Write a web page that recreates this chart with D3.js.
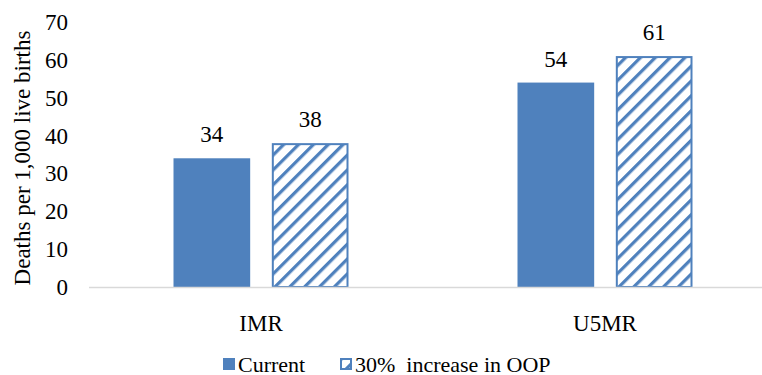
<!DOCTYPE html>
<html>
<head>
<meta charset="utf-8">
<script src="https://cdn.jsdelivr.net/npm/d3@7"></script>
</head>
<body style="margin:0">
<script>
// data
var categories = ["IMR", "U5MR"];
var seriesNames = ["Current", "30%  increase in OOP"];
var current = [34, 54];
var increased = [38, 61];
var yTicks = [0, 10, 20, 30, 40, 50, 60, 70];

var width = 762, height = 375;
var blue = "#4F81BD";
var serif = "'Liberation Serif', serif";

var svg = d3.select("body").append("svg")
  .attr("width", width)
  .attr("height", height);

// diagonal hatch
var defs = svg.append("defs");
var pat = defs.append("pattern")
  .attr("id", "hatch")
  .attr("patternUnits", "userSpaceOnUse")
  .attr("width", 10.5)
  .attr("height", 10.5)
  .attr("patternTransform", "rotate(45)");
pat.append("rect").attr("width", 10.5).attr("height", 10.5).attr("fill", "#fff");
pat.append("line")
  .attr("x1", 0).attr("y1", 0).attr("x2", 0).attr("y2", 10.5)
  .attr("stroke", blue).attr("stroke-width", 6.5);

var x = d3.scaleBand().domain(categories).range([89, 777]);
var y = d3.scaleLinear().domain([0, 70]).range([287, 22]);
var sub = d3.scaleBand().domain([0, 1]).range([0, 175]).paddingInner(0.22);

function label(sel, size) {
  return sel.style("font-family", serif)
    .style("font-size", size + "px")
    .attr("fill", "#000");
}

// y tick labels
label(svg.append("g").selectAll("text")
  .data(yTicks).enter().append("text")
  .attr("x", 68)
  .attr("y", function(d) { return y(d); })
  .attr("dy", "0.35em")
  .attr("text-anchor", "end"), 23)
  .text(function(d) { return d; });

// y title
label(svg.append("text")
  .attr("transform", "translate(22,158) rotate(-90)")
  .attr("dy", "0.35em")
  .attr("text-anchor", "middle"), 23)
  .text("Deaths per 1,000 live births");

var rows = categories.map(function(c, i) {
  return { cat: c, vals: [current[i], increased[i]] };
});

var groups = svg.append("g").selectAll("g")
  .data(rows).enter().append("g")
  .attr("transform", function(d) { return "translate(" + (x(d.cat) + x.bandwidth() / 2 - 87.5) + ",0)"; });

groups.selectAll("rect")
  .data(function(d) { return d.vals; })
  .enter().append("rect")
  .attr("x", function(d, i) { return sub(i) + (i === 1 ? 1 : 0); })
  .attr("y", function(d, i) { return y(d) + (i === 1 ? 1 : 0); })
  .attr("width", function(d, i) { return sub.bandwidth() - (i === 1 ? 2 : 0); })
  .attr("height", function(d, i) { return y(0) - y(d) - (i === 1 ? 1 : 0); })
  .attr("fill", function(d, i) { return i === 0 ? blue : "url(#hatch)"; })
  .attr("stroke", function(d, i) { return i === 1 ? blue : "none"; })
  .attr("stroke-width", 2);

label(groups.selectAll("text")
  .data(function(d) { return d.vals; })
  .enter().append("text")
  .attr("x", function(d, i) { return sub(i) + sub.bandwidth() / 2; })
  .attr("y", function(d) { return y(d) - 24; })
  .attr("dy", "0.35em")
  .attr("text-anchor", "middle"), 23)
  .text(function(d) { return d; });

// baseline
svg.append("line")
  .attr("x1", 89).attr("x2", width)
  .attr("y1", y(0) + 0.5).attr("y2", y(0) + 0.5)
  .attr("stroke", "#d9d9d9").attr("stroke-width", 1.5);

// category labels
label(svg.append("g").selectAll("text")
  .data(categories).enter().append("text")
  .attr("x", function(d) { return x(d) + x.bandwidth() / 2; })
  .attr("y", 323)
  .attr("dy", "0.35em")
  .attr("text-anchor", "middle"), 23)
  .text(function(d) { return d; });

// legend
var legendX = [223, 340];
var leg = svg.append("g").selectAll("g")
  .data(seriesNames).enter().append("g")
  .attr("transform", function(d, i) { return "translate(" + legendX[i] + ",358)"; });
leg.append("rect")
  .attr("x", function(d, i) { return i === 1 ? 1 : 0; })
  .attr("y", function(d, i) { return i === 1 ? 1 : 0; })
  .attr("width", function(d, i) { return i === 1 ? 10 : 12; })
  .attr("height", function(d, i) { return i === 1 ? 10 : 12; })
  .attr("fill", function(d, i) { return i === 0 ? blue : "url(#hatch)"; })
  .attr("stroke", function(d, i) { return i === 1 ? blue : "none"; })
  .attr("stroke-width", 2);
label(leg.append("text")
  .attr("x", 15)
  .attr("y", 6)
  .attr("dy", "0.35em")
  .style("white-space", "pre"), 22)
  .text(function(d) { return d; });
</script>
</body>
</html>
